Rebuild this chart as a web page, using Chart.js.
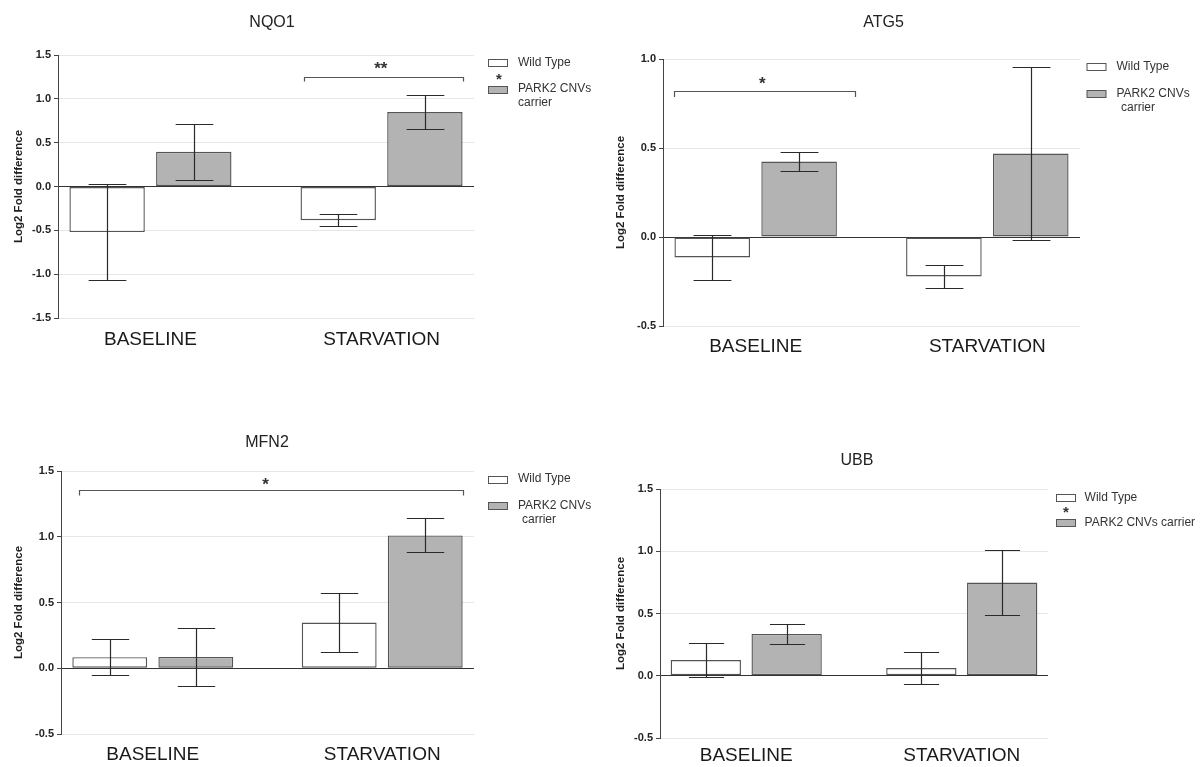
<!DOCTYPE html>
<html><head><meta charset="utf-8">
<script src="https://cdn.jsdelivr.net/npm/chart.js@4.4.1/dist/chart.umd.min.js"></script>
<style>
html,body{margin:0;padding:0;background:#fff;}
#page{position:relative;width:1203px;height:767px;overflow:hidden;background:#fff;}
canvas{position:absolute;}
</style></head><body><div id="page">
<canvas id="c1"></canvas><canvas id="c2"></canvas><canvas id="c3"></canvas><canvas id="c4"></canvas>
</div>
<script>
// ---- data ----
const categories = ['BASELINE', 'STARVATION'];
const seriesNames = ['Wild Type', 'PARK2 CNVs carrier'];
const yAxisTitle = 'Log2 Fold difference';

const nqo1WildType = [-0.52, -0.385];
const nqo1WildTypeErr = [0.55, 0.067];
const nqo1Park2 = [0.395, 0.85];
const nqo1Park2Err = [0.322, 0.196];
const nqo1YRange = [-1.5, 1.5];

const atg5WildType = [-0.115, -0.222];
const atg5WildTypeErr = [0.125, 0.065];
const atg5Park2 = [0.424, 0.469];
const atg5Park2Err = [0.052, 0.485];
const atg5YRange = [-0.5, 1.0];

const mfn2WildType = [0.084, 0.347];
const mfn2WildTypeErr = [0.138, 0.225];
const mfn2Park2 = [0.086, 1.01];
const mfn2Park2Err = [0.223, 0.129];
const mfn2YRange = [-0.5, 1.5];

const ubbWildType = [0.126, 0.062];
const ubbWildTypeErr = [0.135, 0.129];
const ubbPark2 = [0.336, 0.749];
const ubbPark2Err = [0.078, 0.259];
const ubbYRange = [-0.5, 1.5];

// ---- drawing ----
const FONT = "'Liberation Sans', Arial, Helvetica, sans-serif";

function decor(spec) {
  return {
    id: 'decor',
    afterDatasetsDraw(chart) {
      const ctx = chart.ctx, xs = chart.scales.x, ys = chart.scales.y;
      ctx.save();
      // error bars
      chart.data.datasets.forEach((ds, d) => {
        const meta = chart.getDatasetMeta(d);
        meta.data.forEach((el, i) => {
          const v = ds.data[i].y, e = ds.errorBars[i];
          const x = Math.round(el.x) + 0.5;
          const y1 = Math.round(ys.getPixelForValue(v + e)) + 0.5;
          const y2 = Math.round(ys.getPixelForValue(v - e)) + 0.5;
          const hw = el.width / 4;
          ctx.strokeStyle = '#2a2a2a';
          ctx.lineWidth = 1.2;
          ctx.beginPath();
          ctx.moveTo(x, y1); ctx.lineTo(x, y2);
          ctx.moveTo(x - hw, y1); ctx.lineTo(x + hw, y1);
          ctx.moveTo(x - hw, y2); ctx.lineTo(x + hw, y2);
          ctx.stroke();
        });
      });
      // significance brackets
      (spec.brackets || []).forEach(b => {
        const x1 = Math.round(xs.getPixelForValue(b.x1)) + 0.5;
        const x2 = Math.round(xs.getPixelForValue(b.x2)) + 0.5;
        const y = Math.round(ys.getPixelForValue(b.y)) + 0.5;
        ctx.strokeStyle = '#555';
        ctx.lineWidth = 1.2;
        ctx.beginPath();
        ctx.moveTo(x1, y + b.drop); ctx.lineTo(x1, y); ctx.lineTo(x2, y); ctx.lineTo(x2, y + b.drop);
        ctx.stroke();
        ctx.fillStyle = '#333';
        ctx.font = 'bold 17px ' + FONT;
        ctx.textAlign = 'center';
        ctx.textBaseline = 'alphabetic';
        ctx.fillText(b.label, xs.getPixelForValue(b.lx), ys.getPixelForValue(b.ly) + 0.59 * 17);
      });
      // title
      ctx.fillStyle = '#222';
      ctx.font = '16px ' + FONT;
      ctx.textAlign = 'center';
      ctx.textBaseline = 'middle';
      ctx.fillText(spec.title.text, spec.title.x, spec.title.y);
      // legend
      const lg = spec.legend;
      const fills = ['#ffffff', '#b3b3b3'];
      lg.items.forEach((it, k) => {
        ctx.fillStyle = fills[k];
        ctx.fillRect(lg.boxX + 0.5, Math.round(it.y - 3.5) + 0.5, 19, 7);
        ctx.strokeStyle = '#555';
        ctx.lineWidth = 1;
        ctx.strokeRect(lg.boxX + 0.5, Math.round(it.y - 3.5) + 0.5, 19, 7);
        ctx.fillStyle = '#333';
        ctx.font = '12px ' + FONT;
        ctx.textAlign = 'left';
        ctx.textBaseline = 'middle';
        it.lines.forEach((ln, j) => {
          ctx.fillText(ln.t, lg.textX + (ln.dx || 0), it.y + j * 14);
        });
      });
      if (lg.star) {
        ctx.fillStyle = '#333';
        ctx.font = 'bold 15px ' + FONT;
        ctx.textAlign = 'center';
        ctx.textBaseline = 'alphabetic';
        ctx.fillText('*', lg.star.x, lg.star.y + 0.59 * 15);
      }
      ctx.restore();
    }
  };
}

function makePanel(id, spec) {
  const cv = document.getElementById(id);
  cv.width = spec.w; cv.height = spec.h;
  cv.style.left = spec.x + 'px'; cv.style.top = spec.y + 'px';
  const pa = spec.plot;
  const barStyle = { borderColor: '#555', borderWidth: 1.4, borderSkipped: false,
                     categoryPercentage: 0.75, barPercentage: 0.87 };
  new Chart(cv, {
    type: 'bar',
    data: {
      datasets: [
        Object.assign({ label: seriesNames[0], data: spec.wt.map((v, i) => ({ x: i, y: v })),
          errorBars: spec.wtErr, backgroundColor: '#ffffff' }, barStyle),
        Object.assign({ label: seriesNames[1], data: spec.pk.map((v, i) => ({ x: i, y: v })),
          errorBars: spec.pkErr, backgroundColor: '#b3b3b3' }, barStyle)
      ]
    },
    options: {
      responsive: false, animation: false, devicePixelRatio: 1,
      layout: { padding: { left: 0, top: pa.top, right: spec.w - pa.right, bottom: 0 } },
      plugins: { legend: { display: false }, tooltip: { enabled: false }, title: { display: false } },
      scales: {
        x: {
          type: 'linear', min: -0.4, max: 1.4, offset: false,
          grid: { display: false, drawTicks: false }, border: { display: false },
          afterBuildTicks: s => { s.ticks = categories.map((c, i) => ({ value: i })); },
          afterFit: s => { s.height = spec.h - pa.bottom; },
          ticks: { autoSkip: false, maxRotation: 0, padding: spec.xPad, color: '#1a1a1a',
                   font: { family: FONT, size: 19 }, callback: v => categories[v] ?? '' }
        },
        y: {
          min: spec.yRange[0], max: spec.yRange[1],
          afterFit: s => { s.width = pa.left; },
          ticks: { stepSize: 0.5, padding: 3, color: '#222',
                   font: { family: FONT, size: 11, weight: 'bold' }, callback: v => Number(v).toFixed(1) },
          grid: { color: c => (c.tick && Math.abs(c.tick.value) < 1e-9) ? '#333' : '#e6e6e6',
                  tickColor: '#444', tickLength: 4, lineWidth: 1 },
          border: { display: true, color: '#444', width: 1 },
          title: { display: true, text: yAxisTitle, color: '#222',
                   font: { family: FONT, size: 11.5, weight: 'bold' }, padding: { top: spec.yTitlePad, bottom: 0 } }
        }
      }
    },
    plugins: [decor(spec)]
  });
}

makePanel('c1', {
  x: 0, y: 0, w: 600, h: 372, plot: { left: 58, top: 55, right: 474, bottom: 318 },
  wt: nqo1WildType, wtErr: nqo1WildTypeErr, pk: nqo1Park2, pkErr: nqo1Park2Err, yRange: nqo1YRange,
  xPad: 10, yTitlePad: 12,
  title: { text: 'NQO1', x: 272, y: 23 },
  legend: { boxX: 488, textX: 518, star: { x: 499, y: 75 },
            items: [{ y: 62.5, lines: [{ t: 'Wild Type' }] },
                    { y: 89, lines: [{ t: 'PARK2 CNVs' }, { t: 'carrier' }] }] },
  brackets: [{ x1: 0.664, x2: 1.351, y: 1.249, drop: 4, label: '**', lx: 0.997, ly: 1.40 }]
});

makePanel('c2', {
  x: 600, y: 0, w: 603, h: 372, plot: { left: 63, top: 59, right: 480, bottom: 326 },
  wt: atg5WildType, wtErr: atg5WildTypeErr, pk: atg5Park2, pkErr: atg5Park2Err, yRange: atg5YRange,
  xPad: 9, yTitlePad: 14,
  title: { text: 'ATG5', x: 283.5, y: 23 },
  legend: { boxX: 486.5, textX: 516.5,
            items: [{ y: 66.7, lines: [{ t: 'Wild Type' }] },
                    { y: 93.3, lines: [{ t: 'PARK2 CNVs' }, { t: 'carrier', dx: 4.5 }] }] },
  brackets: [{ x1: -0.353, x2: 0.429, y: 0.820, drop: 5.5, label: '*', lx: 0.029, ly: 0.89 }]
});

makePanel('c3', {
  x: 0, y: 400, w: 600, h: 367, plot: { left: 61, top: 71, right: 474, bottom: 334 },
  wt: mfn2WildType, wtErr: mfn2WildTypeErr, pk: mfn2Park2, pkErr: mfn2Park2Err, yRange: mfn2YRange,
  xPad: 9, yTitlePad: 12,
  title: { text: 'MFN2', x: 267, y: 42.7 },
  legend: { boxX: 488, textX: 518,
            items: [{ y: 79, lines: [{ t: 'Wild Type' }] },
                    { y: 105.7, lines: [{ t: 'PARK2 CNVs' }, { t: 'carrier', dx: 4 }] }] },
  brackets: [{ x1: -0.322, x2: 1.351, y: 1.353, drop: 5, label: '*', lx: 0.491, ly: 1.43 }]
});

makePanel('c4', {
  x: 600, y: 420, w: 603, h: 347, plot: { left: 60, top: 69, right: 448, bottom: 318 },
  wt: ubbWildType, wtErr: ubbWildTypeErr, pk: ubbPark2, pkErr: ubbPark2Err, yRange: ubbYRange,
  xPad: 6, yTitlePad: 14,
  title: { text: 'UBB', x: 257, y: 40.7 },
  legend: { boxX: 456, textX: 484.6, star: { x: 466, y: 88.5 },
            items: [{ y: 77.3, lines: [{ t: 'Wild Type' }] },
                    { y: 102.3, lines: [{ t: 'PARK2 CNVs carrier' }] }] },
  brackets: []
});
</script>
</body></html>
